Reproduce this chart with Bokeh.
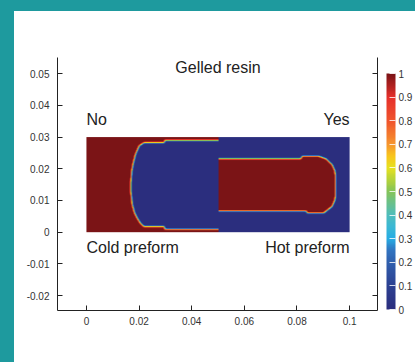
import numpy as np
from bokeh.plotting import figure
from bokeh.models import (LinearColorMapper, ColorBar, FixedTicker, CustomJSTickFormatter,
                          LinearAxis, Label, Range1d)
from bokeh.embed import file_html
from bokeh.resources import INLINE

# ---- data ----
field_x = [0.0, 0.1]          # extent of the simulated field (m)
field_y = [0.0, 0.03]
split_x = 0.05                # left half: cold preform, right half: hot preform

# boundary of the un-gelled (blue) zone in the cold preform
cold_front_x = [0.05, 0.0297, 0.0295, 0.0218, 0.0200, 0.0186, 0.0177, 0.0172, 0.0169, 0.0169,
                0.0174, 0.0183, 0.0193, 0.0205, 0.0218, 0.0295, 0.0297, 0.05]
cold_front_y = [0.0289, 0.0289, 0.0282, 0.0282, 0.0272, 0.0245, 0.0215, 0.0192, 0.0160, 0.0125,
                0.0087, 0.0060, 0.0044, 0.0028, 0.0018, 0.0018, 0.00095, 0.00095]

# boundary of the gelled (red) zone in the hot preform
hot_front_x = [0.05, 0.0815, 0.0820, 0.0883, 0.0912, 0.0934, 0.0944, 0.0947, 0.0947, 0.0944,
               0.0934, 0.0902, 0.0839, 0.0836, 0.05]
hot_front_y = [0.0232, 0.0232, 0.0240, 0.0240, 0.0231, 0.0213, 0.0195, 0.0180, 0.0113, 0.0100,
               0.0081, 0.0060, 0.0060, 0.0066, 0.0066]

x_ticks = [0, 0.02, 0.04, 0.06, 0.08, 0.1]
y_ticks = [-0.02, -0.01, 0, 0.01, 0.02, 0.03, 0.04, 0.05]
cbar_ticks = [0, 0.1, 0.2, 0.3, 0.4, 0.5, 0.6, 0.7, 0.8, 0.9, 1]

labels_text = ["Gelled resin", "No", "Yes", "Cold preform", "Hot preform"]
labels_x = [0.05, 0.0, 0.1, 0.0, 0.1]
labels_y = [0.0518, 0.0357, 0.0357, -0.0048, -0.0048]
labels_align = ["center", "left", "right", "left", "right"]

# ---- colour map (style) ----
anchors = [(0.0, "#2b2e7e"), (0.1, "#2c4192"), (0.2, "#3060ae"), (0.25, "#3174c0"),
           (0.3, "#27ade4"), (0.35, "#3bb8d4"), (0.4, "#4fbdbc"), (0.5, "#84c45a"),
           (0.55, "#b5d33a"), (0.6, "#e6e120"), (0.65, "#f8c61c"), (0.7, "#f6962e"),
           (0.8, "#f0542c"), (0.9, "#e6302b"), (1.0, "#7b1416")]
def hex2rgb(h):
    return [int(h[i:i + 2], 16) for i in (1, 3, 5)]
av = np.array([a[0] for a in anchors])
ac = np.array([hex2rgb(a[1]) for a in anchors], dtype=float)
t = np.linspace(0, 1, 256)
palette = ["#%02x%02x%02x" % tuple(int(round(np.interp(tt, av, ac[:, k]))) for k in range(3)) for tt in t]

# ---- build the field from the fronts ----
def inside(px, py, vx, vy):
    vx = np.asarray(vx); vy = np.asarray(vy)
    c = np.zeros(px.shape, dtype=bool)
    for i in range(len(vx)):
        j = i - 1
        yi, yj, xi, xj = vy[i], vy[j], vx[i], vx[j]
        if yi == yj:
            continue
        cond = ((yi > py) != (yj > py)) & (px < (xj - xi) * (py - yi) / (yj - yi) + xi)
        c ^= cond
    return c

def smooth(a):
    k = [0.25, 0.5, 0.25]
    pad = np.pad(a, 1, mode="edge")
    out = np.zeros_like(a)
    for dy in range(3):
        for dx in range(3):
            out += k[dy] * k[dx] * pad[dy:dy + a.shape[0], dx:dx + a.shape[1]]
    return out

nx, ny, sub = 264, 95, 4
dw = field_x[1] - field_x[0]
dh = field_y[1] - field_y[0]
xs = field_x[0] + (np.arange(nx * sub) + 0.5) * dw / (nx * sub)
ys = field_y[0] + (np.arange(ny * sub) + 0.5) * dh / (ny * sub)
X, Y = np.meshgrid(xs, ys)
cold_in = inside(X, Y, cold_front_x, cold_front_y)
hot_in = inside(X, Y, hot_front_x, hot_front_y)
fine = np.where(X < split_x, 1.0 - cold_in, hot_in.astype(float))
field = fine.reshape(ny, sub, nx, sub).mean(axis=(1, 3))
half = int(round((split_x - field_x[0]) / dw * nx))
field = np.hstack([smooth(field[:, :half]), smooth(field[:, half:])])

# ---- figure ----
W, H = 415, 362
p = figure(width=W, height=H, output_backend="svg", toolbar_location=None,
           x_range=Range1d(-0.011, 0.1106), y_range=Range1d(-0.0247, 0.0551),
           min_border_left=57, min_border_top=57, min_border_bottom=52, min_border_right=38,
           x_axis_location=None, y_axis_location=None)
p.border_fill_color = None
p.background_fill_color = "white"
p.outline_line_color = None
p.grid.visible = False
p.styles = {"background": "linear-gradient(to right, #1e9a9e 14px, rgba(0,0,0,0) 14px), "
                          "linear-gradient(to bottom, #1e9a9e 11px, #ffffff 11px)"}

mapper = LinearColorMapper(palette=palette, low=0, high=1)
p.image(image=[field], x=field_x[0], y=field_y[0], dw=dw, dh=dh, color_mapper=mapper)

fmt = CustomJSTickFormatter(code="return String(parseFloat(tick.toFixed(4)));")
def style_axis(ax, ticks, show_labels=True):
    ax.ticker = FixedTicker(ticks=ticks)
    ax.formatter = fmt if show_labels else CustomJSTickFormatter(code="return '';")
    ax.major_tick_in = 5
    ax.major_tick_out = 0
    ax.minor_tick_line_color = None
    ax.axis_line_color = "#222222"
    ax.major_tick_line_color = "#222222"
    ax.major_label_text_font = "Liberation Sans"
    ax.major_label_text_font_size = "10px"
    ax.major_label_text_color = "#333333"
    ax.major_label_standoff = 8

bottom = LinearAxis(); style_axis(bottom, x_ticks); bottom.major_label_standoff = 6
left = LinearAxis(); style_axis(left, y_ticks)
right = LinearAxis(); style_axis(right, y_ticks, show_labels=False)
right.major_label_standoff = 0
p.add_layout(bottom, "below")
p.add_layout(left, "left")
p.add_layout(right, "right")

cbar = ColorBar(color_mapper=mapper, ticker=FixedTicker(ticks=cbar_ticks),
                formatter=CustomJSTickFormatter(code="return String(parseFloat(tick.toFixed(2)));"),
                width=9, height=236, padding=0, margin=0, location=(329, 1),
                label_standoff=3, major_tick_in=6, major_tick_out=0,
                major_tick_line_color="white", major_tick_line_alpha=0.8,
                bar_line_color=None, border_line_color=None, background_fill_color=None,
                major_label_text_font="Liberation Sans", major_label_text_font_size="10px",
                major_label_text_color="#333333")
p.add_layout(cbar, "center")

for txt, lx, ly, al in zip(labels_text, labels_x, labels_y, labels_align):
    p.add_layout(Label(x=lx, y=ly, text=txt, text_align=al, text_baseline="middle",
                       text_font="Liberation Sans", text_font_size="16px", text_color="#222222"))

open("out.html", "w").write(file_html(p, INLINE))
